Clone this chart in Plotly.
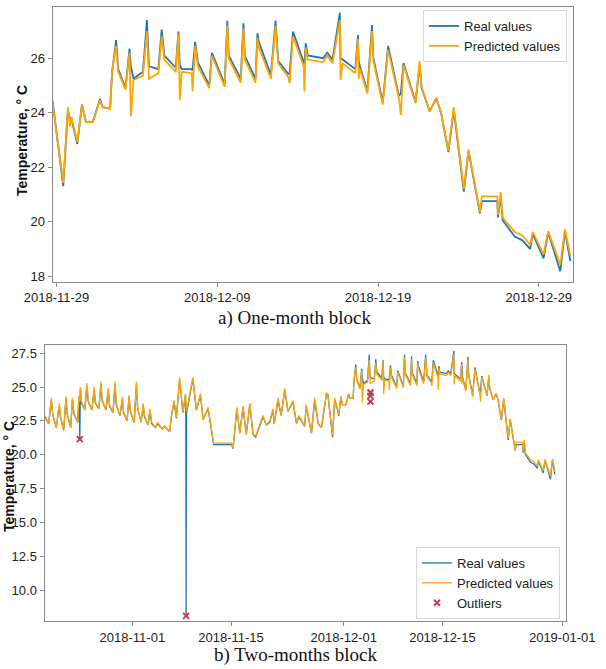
import plotly.graph_objects as go

# ---------------- One-month block (top) ----------------
top_time = [
    "2018-11-28 18:00", "2018-11-29 10:00", "2018-11-29 17:00", "2018-11-29 20:00", "2018-11-29 22:00",
    "2018-11-30 07:00", "2018-11-30 14:00", "2018-11-30 20:00", "2018-12-01 06:00", "2018-12-01 17:00",
    "2018-12-01 21:00", "2018-12-02 08:00", "2018-12-02 11:00", "2018-12-02 17:00", "2018-12-02 20:00",
    "2018-12-03 07:00", "2018-12-03 13:00", "2018-12-03 15:00", "2018-12-03 19:00", "2018-12-04 09:00",
    "2018-12-04 15:00", "2018-12-04 17:00", "2018-12-04 18:00", "2018-12-05 08:00", "2018-12-05 13:00",
    "2018-12-05 17:00", "2018-12-06 10:00", "2018-12-06 14:00", "2018-12-06 16:00", "2018-12-06 19:00",
    "2018-12-07 10:00", "2018-12-07 11:00", "2018-12-07 15:00", "2018-12-07 19:00", "2018-12-08 12:00",
    "2018-12-08 16:00", "2018-12-09 11:00", "2018-12-09 15:00", "2018-12-09 17:00", "2018-12-10 11:00",
    "2018-12-10 15:00", "2018-12-10 17:00", "2018-12-11 09:00", "2018-12-11 12:00", "2018-12-11 14:00",
    "2018-12-12 08:00", "2018-12-12 15:00", "2018-12-12 19:00", "2018-12-13 10:00", "2018-12-13 12:00",
    "2018-12-13 17:00", "2018-12-14 09:00", "2018-12-14 10:00", "2018-12-14 12:00", "2018-12-14 15:00",
    "2018-12-15 14:00", "2018-12-15 20:00", "2018-12-16 04:00", "2018-12-16 15:00", "2018-12-16 16:00",
    "2018-12-16 19:00", "2018-12-17 14:00", "2018-12-17 18:00", "2018-12-17 19:00", "2018-12-17 21:00",
    "2018-12-18 08:00", "2018-12-18 15:00", "2018-12-18 17:00", "2018-12-19 07:00", "2018-12-19 15:00",
    "2018-12-20 07:00", "2018-12-20 10:00", "2018-12-20 14:00", "2018-12-21 08:00", "2018-12-21 14:00",
    "2018-12-21 17:00", "2018-12-22 05:00", "2018-12-22 15:00", "2018-12-22 22:00", "2018-12-23 09:00",
    "2018-12-23 17:00", "2018-12-24 08:00", "2018-12-24 15:00", "2018-12-25 08:00", "2018-12-25 11:00",
    "2018-12-26 10:00", "2018-12-26 11:00", "2018-12-26 15:00", "2018-12-26 18:00", "2018-12-27 12:00",
    "2018-12-27 23:00", "2018-12-28 11:00", "2018-12-28 15:00", "2018-12-29 07:00", "2018-12-29 14:00",
    "2018-12-30 08:00", "2018-12-30 15:00", "2018-12-30 23:00",
]
top_real = [
    24.45, 21.30, 24.10, 23.75, 23.80,
    22.85, 24.30, 23.65, 23.65, 24.50,
    24.20, 24.15, 25.50, 26.67, 25.60,
    24.90, 26.35, 25.70, 25.25, 25.50,
    27.40, 25.75, 25.70, 25.60, 27.05,
    26.10, 25.65, 26.98, 25.75, 25.60,
    25.60, 25.55, 26.60, 25.85, 25.00,
    26.20, 25.05, 27.38, 26.10, 25.25,
    27.28, 26.10, 25.25, 26.92, 26.60,
    25.38, 27.38, 25.90, 25.42, 25.45,
    26.98, 25.85, 25.80, 26.55, 26.10,
    26.00, 26.20, 25.95, 27.67, 26.00,
    25.95, 25.60, 26.85, 25.90, 25.70,
    24.80, 27.22, 26.00, 24.38, 26.45,
    24.62, 24.70, 25.82, 24.38, 25.75,
    24.90, 24.05, 24.53, 24.00, 22.55,
    24.10, 21.10, 22.60, 20.30, 20.75,
    20.75, 20.15, 20.95, 20.05, 19.45,
    19.32, 19.00, 19.55, 18.65, 19.60,
    18.18, 19.65, 18.55,
]
top_pred = [
    24.40, 21.42, 24.20, 23.50, 23.85,
    22.92, 24.30, 23.65, 23.65, 24.45,
    24.20, 24.15, 25.55, 26.45, 25.50,
    24.85, 26.20, 23.86, 25.20, 25.35,
    27.00, 25.70, 25.25, 25.45, 26.80,
    25.95, 25.50, 26.90, 24.47, 25.50,
    25.45, 24.78, 26.45, 25.70, 24.90,
    26.10, 24.95, 27.20, 26.00, 25.10,
    27.10, 25.95, 25.10, 26.75, 26.40,
    25.25, 27.20, 25.80, 25.30, 25.08,
    26.80, 25.70, 24.78, 26.40, 25.95,
    25.85, 26.10, 25.82, 27.40, 25.20,
    25.82, 25.45, 26.70, 25.25, 25.60,
    24.70, 27.00, 25.90, 24.30, 26.30,
    24.55, 23.92, 25.75, 24.35, 25.90,
    24.95, 24.05, 24.55, 24.00, 22.60,
    24.20, 21.20, 22.65, 20.35, 20.93,
    20.93, 20.25, 21.08, 20.15, 19.62,
    19.50, 19.15, 19.62, 18.80, 19.65,
    18.42, 19.72, 18.75,
]

# ---------------- Two-months block (bottom): earlier part ----------------
early_time = [
    "2018-10-19 14:00", "2018-10-20 03:00", "2018-10-20 12:00", "2018-10-20 17:00", "2018-10-21 05:00",
    "2018-10-21 15:00", "2018-10-21 19:00", "2018-10-22 06:00", "2018-10-22 14:00", "2018-10-22 18:00",
    "2018-10-23 06:00", "2018-10-23 12:00", "2018-10-23 17:00", "2018-10-24 06:00", "2018-10-24 10:00",
    "2018-10-24 12:00", "2018-10-24 13:00", "2018-10-24 15:00", "2018-10-24 19:00", "2018-10-25 06:00",
    "2018-10-25 13:00", "2018-10-25 18:00", "2018-10-26 06:00", "2018-10-26 14:00", "2018-10-26 18:00",
    "2018-10-27 06:00", "2018-10-27 13:00", "2018-10-27 17:00", "2018-10-28 06:00", "2018-10-28 14:00",
    "2018-10-28 18:00", "2018-10-29 06:00", "2018-10-29 13:00", "2018-10-29 17:00", "2018-10-30 06:00",
    "2018-10-30 14:00", "2018-10-30 18:00", "2018-10-31 06:00", "2018-10-31 13:00", "2018-10-31 17:00",
    "2018-11-01 06:00", "2018-11-01 14:00", "2018-11-01 18:00", "2018-11-02 06:00", "2018-11-02 13:00",
    "2018-11-02 17:00", "2018-11-03 06:00", "2018-11-03 12:00", "2018-11-03 18:00", "2018-11-04 06:00",
    "2018-11-04 14:00", "2018-11-05 06:00", "2018-11-05 14:00", "2018-11-06 07:00", "2018-11-06 13:00",
    "2018-11-06 22:00", "2018-11-07 06:00", "2018-11-07 17:00", "2018-11-08 04:00", "2018-11-08 13:00",
    "2018-11-08 14:00", "2018-11-08 15:00", "2018-11-08 16:00", "2018-11-09 14:00", "2018-11-10 02:00",
    "2018-11-10 16:00", "2018-11-11 01:00", "2018-11-11 18:00", "2018-11-12 11:00", "2018-11-12 13:00",
    "2018-11-15 02:00", "2018-11-15 07:00", "2018-11-15 20:00", "2018-11-16 06:00", "2018-11-16 17:00",
    "2018-11-17 04:00", "2018-11-17 16:00", "2018-11-18 03:00", "2018-11-18 12:00", "2018-11-19 13:00",
    "2018-11-20 00:00", "2018-11-20 12:00", "2018-11-20 23:00", "2018-11-21 03:00", "2018-11-21 16:00",
    "2018-11-22 03:00", "2018-11-22 15:00", "2018-11-23 02:00", "2018-11-23 19:00", "2018-11-24 07:00",
    "2018-11-24 15:00", "2018-11-25 11:00", "2018-11-25 16:00", "2018-11-26 10:00", "2018-11-26 21:00",
    "2018-11-27 09:00", "2018-11-27 20:00", "2018-11-28 13:00",
]
early_real = [
    22.80, 22.30, 24.00, 22.90, 22.00,
    23.60, 22.80, 21.80, 24.20, 23.00,
    22.00, 24.10, 23.00, 22.40, 24.30,
    22.70, 21.15, 24.90, 23.80, 23.30,
    25.10, 23.90, 23.30, 24.80, 23.80,
    23.40, 25.20, 24.00, 23.30, 24.80,
    23.60, 23.10, 25.20, 23.70, 22.90,
    24.10, 23.10, 22.50, 24.30, 23.20,
    22.40, 25.20, 23.40, 22.40, 23.70,
    22.80, 22.20, 23.30, 22.30, 22.00,
    22.30, 21.90, 22.10, 21.70, 22.80,
    23.90, 22.70, 25.60, 23.10, 24.40,
    23.00, 8.09, 23.00, 25.60, 23.30,
    24.40, 22.60, 23.40, 20.95, 20.75,
    20.75, 20.45, 23.40, 21.60, 23.50,
    21.50, 23.70, 21.50, 21.30, 22.80,
    22.20, 22.40, 23.30, 22.30, 24.00,
    22.90, 24.80, 23.20, 23.90, 22.30,
    22.80, 22.10, 23.60, 21.60, 24.00,
    22.30, 22.00, 24.50,
]
early_pred = [
    22.90, 22.30, 24.20, 23.00, 22.00,
    23.80, 22.90, 21.80, 24.30, 23.10,
    22.00, 24.20, 23.10, 22.40, 24.40,
    24.00, 23.90, 25.00, 23.90, 23.30,
    25.30, 24.00, 23.30, 25.00, 23.90,
    23.40, 25.40, 24.10, 23.30, 24.90,
    23.70, 23.10, 25.40, 23.80, 22.90,
    24.30, 23.20, 22.50, 24.40, 23.30,
    22.40, 25.40, 23.50, 22.40, 23.80,
    22.90, 22.20, 23.40, 22.40, 22.00,
    22.40, 21.90, 22.10, 21.70, 22.90,
    24.00, 22.80, 25.70, 23.10, 24.50,
    23.40, 23.30, 23.20, 25.70, 23.30,
    24.50, 22.60, 23.50, 21.00, 20.85,
    20.85, 20.50, 23.50, 21.60, 23.60,
    21.50, 23.80, 21.50, 21.40, 22.90,
    22.20, 22.50, 23.40, 22.30, 24.20,
    22.90, 24.90, 23.20, 24.00, 22.30,
    22.90, 22.10, 23.70, 21.60, 24.20,
    22.30, 22.00, 24.60,
]

bottom_time = early_time + top_time
bottom_real = early_real + top_real
bottom_pred = early_pred + top_pred

outlier_time = ["2018-10-24 13:00", "2018-11-08 15:00", "2018-12-04 19:00", "2018-12-04 19:00", "2018-12-04 19:00"]
outlier_val = [21.15, 8.09, 24.60, 24.35, 23.93]

top_xticks = ["2018-11-29", "2018-12-09", "2018-12-19", "2018-12-29"]
top_yticks = [18, 20, 22, 24, 26]
bot_xticks = ["2018-11-01", "2018-11-15", "2018-12-01", "2018-12-15", "2019-01-01"]
bot_yticks = [10.0, 12.5, 15.0, 17.5, 20.0, 22.5, 25.0, 27.5]

BLUE = "#1f77b4"
ORANGE = "#FFA500"
RED = "#d0304f"
FONT = "Liberation Sans, Arial, sans-serif"
W, H = 606, 669

fig = go.Figure()
fig.add_trace(go.Scatter(x=top_time, y=top_real, mode="lines", name="Real values",
                         line=dict(color=BLUE, width=1.8), xaxis="x", yaxis="y", legend="legend"))
fig.add_trace(go.Scatter(x=top_time, y=top_pred, mode="lines", name="Predicted values",
                         line=dict(color=ORANGE, width=1.8), xaxis="x", yaxis="y", legend="legend"))
fig.add_trace(go.Scatter(x=bottom_time, y=bottom_real, mode="lines", name="Real values",
                         line=dict(color=BLUE, width=1.3), xaxis="x2", yaxis="y2", legend="legend2"))
fig.add_trace(go.Scatter(x=bottom_time, y=bottom_pred, mode="lines", name="Predicted values",
                         line=dict(color=ORANGE, width=1.3), xaxis="x2", yaxis="y2", legend="legend2"))
fig.add_trace(go.Scatter(x=outlier_time, y=outlier_val, mode="markers", name="Outliers",
                         marker=dict(symbol="x-thin", size=6, color=RED, line=dict(color=RED, width=1.8)),
                         xaxis="x2", yaxis="y2", legend="legend2"))

axis_common = dict(showline=True, mirror=True, linecolor="#8a8a8a", linewidth=1, automargin=False,
                   ticks="outside", ticklen=4, tickcolor="#8a8a8a", showgrid=False, zeroline=False,
                   tickfont=dict(family=FONT, size=13, color="#222"))

fig.update_layout(
    template="none",
    width=W, height=H, margin=dict(l=0, r=0, t=0, b=0, pad=0, autoexpand=False),
    paper_bgcolor="white", plot_bgcolor="white",
    font=dict(family=FONT, size=13, color="#222"),
    xaxis=dict(domain=[52.5 / W, 573 / W], anchor="y", type="date",
               range=["2018-11-28 18:00", "2018-12-31 03:00"],
               tickvals=top_xticks, ticktext=top_xticks, **axis_common),
    yaxis=dict(domain=[1 - 281.5 / H, 1 - 6.5 / H], anchor="x", range=[17.8, 27.9],
               tickvals=top_yticks, ticktext=[str(v) for v in top_yticks], **axis_common),
    xaxis2=dict(domain=[44.5 / W, 566 / W], anchor="y2", type="date",
                range=["2018-10-19 12:45", "2019-01-01 13:00"],
                tickvals=bot_xticks, ticktext=bot_xticks, **axis_common),
    yaxis2=dict(domain=[1 - 621 / H, 1 - 345 / H], anchor="x2", range=[7.71, 28.11],
                tickvals=bot_yticks, ticktext=[f"{v:.1f}" for v in bot_yticks], **axis_common),
    legend=dict(x=567 / W, xanchor="right", y=1 - 10 / H, yanchor="top",
                bgcolor="white", bordercolor="#d8d8d8", borderwidth=1,
                font=dict(family=FONT, size=13, color="#222"), tracegroupgap=0),
    legend2=dict(x=560 / W, xanchor="right", y=1 - 619 / H, yanchor="bottom",
                 bgcolor="white", bordercolor="#d8d8d8", borderwidth=1,
                 font=dict(family=FONT, size=13, color="#222"), tracegroupgap=0),
    showlegend=True,
)

ann_common = dict(xref="paper", yref="paper", showarrow=False, xanchor="center", yanchor="middle")
fig.add_annotation(text="<b>Temperature, ° C</b>", textangle=-90, x=22 / W, y=1 - 141 / H,
                   font=dict(family=FONT, size=14, color="#111"), **ann_common)
fig.add_annotation(text="<b>Temperature, ° C</b>", textangle=-90, x=9 / W, y=1 - 477 / H,
                   font=dict(family=FONT, size=14, color="#111"), **ann_common)
fig.add_annotation(text="a) One-month block", x=295 / W, y=1 - 318 / H,
                   font=dict(family="Liberation Serif, Times New Roman, serif", size=19, color="#111"),
                   **ann_common)
fig.add_annotation(text="b) Two-months block", x=295 / W, y=1 - 655 / H,
                   font=dict(family="Liberation Serif, Times New Roman, serif", size=19, color="#111"),
                   **ann_common)

fig.write_html("out.html", config={"displayModeBar": False},
               post_script="document.body.style.margin='0';")
